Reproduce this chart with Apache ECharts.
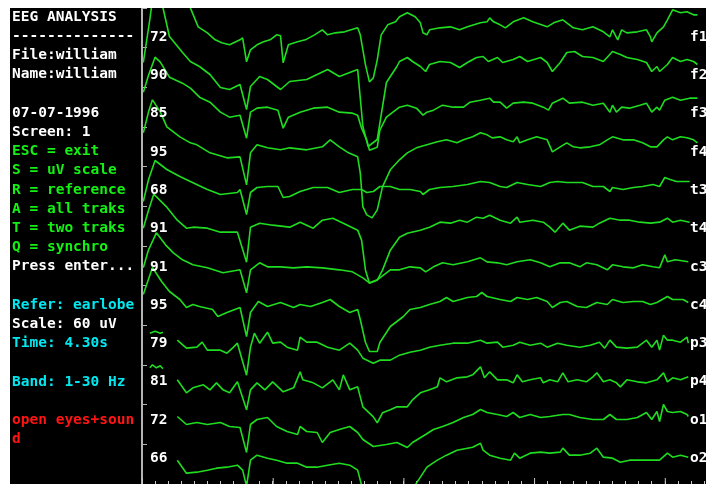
<!DOCTYPE html>
<html><head><meta charset="utf-8">
<script src="https://cdn.jsdelivr.net/npm/echarts@6/dist/echarts.min.js"></script>
<style>html,body{margin:0;padding:0;background:#fff}#c{width:706px;height:484px}</style>
</head><body><div id="c"></div><script>
// ---- data ----
const channelNames = ['f1','f2','f3','f4','t3','t4','c3','c4','p3','p4','o1','o2'];
const channelNumbers = [72, 90, 85, 95, 68, 91, 91, 95, 79, 81, 72, 66];
const durationSec = 4.3;
const secondTicks = [0, 1, 2, 3, 4];
const infoLines = [
  ['EEG ANALYSIS','w'],['--------------','w'],['File:william','w'],['Name:william','w'],['',''],
  ['07-07-1996','w'],['Screen: 1','w'],['ESC = exit','g'],['S = uV scale','g'],['R = reference','g'],
  ['A = all traks','g'],['T = two traks','g'],['Q = synchro','g'],['Press enter...','w'],['',''],
  ['Refer: earlobe','c'],['Scale: 60 uV','w'],['Time: 4.30s','c'],['',''],['Band: 1-30 Hz','c'],['',''],
  ['open eyes+soun','r'],['d','r']
];
// traces: [time (s), amplitude relative to channel baseline]; null = gap
const f1 = [[0.01,53],[0.18,68],[0.31,48],[0.37,20],[0.43,1],[0.50,-5],[0.56,-12],[0.61,-15],[0.67,-17],[0.75,-12],[0.77,-10],[0.80,-34],[0.83,-22],[0.88,-17],[0.93,-14],[0.98,-12],[1.03,-7],[1.06,-8],[1.08,-35],[1.12,-17],[1.19,-14],[1.25,-12],[1.32,-7],[1.38,-2],[1.42,-7],[1.48,-5],[1.55,-4],[1.65,0],[1.67,-7],[1.71,-37],[1.74,-54],[1.77,-50],[1.80,-32],[1.83,-7],[1.88,3],[1.94,6],[1.97,11],[2.03,15],[2.09,11],[2.13,5],[2.15,-5],[2.18,-7],[2.20,-2],[2.28,0],[2.36,1],[2.43,-2],[2.49,1],[2.59,5],[2.64,6],[2.66,10],[2.69,6],[2.74,3],[2.78,0],[2.84,6],[2.92,10],[2.99,6],[3.10,1],[3.15,5],[3.22,8],[3.30,0],[3.37,-2],[3.45,1],[3.53,-4],[3.58,-9],[3.60,-2],[3.64,-12],[3.67,-2],[3.71,-5],[3.79,-4],[3.86,-2],[3.89,-9],[3.90,-14],[3.94,-5],[3.99,1],[4.02,8],[4.06,18],[4.12,15],[4.17,16],[4.22,13],[4.25,13]];
const f2 = [[0.01,5],[0.06,48],[0.10,88],[0.14,78],[0.16,60],[0.21,31],[0.31,15],[0.37,6],[0.44,1],[0.52,-7],[0.60,-20],[0.67,-22],[0.75,-17],[0.80,-42],[0.83,-19],[0.90,-9],[0.96,-12],[1.06,-22],[1.13,-14],[1.26,-12],[1.42,-2],[1.51,-9],[1.61,-4],[1.65,-2],[1.69,-59],[1.73,-79],[1.80,-72],[1.87,-15],[1.95,1],[1.97,6],[2.03,10],[2.07,6],[2.13,1],[2.17,-4],[2.20,3],[2.28,6],[2.36,5],[2.43,0],[2.49,5],[2.56,10],[2.61,11],[2.65,6],[2.72,10],[2.76,5],[2.84,8],[2.89,11],[2.95,6],[3.05,10],[3.10,5],[3.14,-4],[3.20,5],[3.25,15],[3.31,16],[3.37,11],[3.45,10],[3.53,6],[3.60,16],[3.66,13],[3.71,10],[3.79,8],[3.86,5],[3.90,-4],[3.94,1],[3.96,-4],[4.02,3],[4.06,10],[4.12,6],[4.17,8],[4.22,6],[4.25,3]];
const f3 = [[0.01,15],[0.05,32],[0.10,50],[0.14,45],[0.21,30],[0.31,24],[0.37,19],[0.44,10],[0.52,5],[0.60,-5],[0.67,-10],[0.75,-8],[0.80,-31],[0.83,-5],[0.88,-1],[0.96,0],[1.04,-3],[1.08,-21],[1.12,-10],[1.21,-5],[1.31,-1],[1.42,0],[1.51,-5],[1.61,-6],[1.65,-8],[1.68,-21],[1.72,-33],[1.74,-43],[1.80,-40],[1.82,-23],[1.87,-10],[1.92,-5],[1.97,0],[2.03,2],[2.10,-1],[2.15,-8],[2.18,-5],[2.23,-3],[2.30,2],[2.38,0],[2.46,0],[2.51,5],[2.59,7],[2.66,9],[2.69,5],[2.74,5],[2.79,-1],[2.84,4],[2.92,5],[2.99,4],[3.07,0],[3.11,-3],[3.14,4],[3.22,9],[3.27,4],[3.37,5],[3.45,2],[3.53,4],[3.58,-5],[3.60,2],[3.63,-5],[3.67,0],[3.73,-1],[3.81,2],[3.86,4],[3.90,-5],[3.94,0],[3.96,-3],[4.00,7],[4.06,10],[4.12,7],[4.19,9],[4.25,9]];
const f4 = [[0.01,14],[0.05,35],[0.08,47],[0.14,35],[0.19,20],[0.29,10],[0.37,4],[0.42,2],[0.52,-6],[0.65,-11],[0.75,-10],[0.80,-38],[0.83,-6],[0.88,2],[0.96,-1],[1.06,-3],[1.13,-1],[1.26,-3],[1.38,0],[1.44,7],[1.51,0],[1.58,-6],[1.65,-10],[1.67,-26],[1.69,-60],[1.72,-68],[1.76,-71],[1.80,-63],[1.84,-40],[1.90,-23],[1.97,-13],[2.03,-6],[2.10,-1],[2.18,2],[2.26,5],[2.33,7],[2.41,4],[2.46,7],[2.53,10],[2.59,14],[2.64,12],[2.68,9],[2.74,10],[2.79,7],[2.84,5],[2.87,10],[2.89,4],[2.95,7],[3.02,10],[3.10,7],[3.14,-5],[3.20,0],[3.25,4],[3.30,0],[3.35,-1],[3.43,0],[3.50,2],[3.56,7],[3.60,10],[3.68,7],[3.76,7],[3.83,4],[3.89,0],[3.94,0],[3.99,7],[4.02,10],[4.06,7],[4.12,10],[4.17,9],[4.22,7],[4.25,4]];
const t3 = [[0.01,-15],[0.05,7],[0.10,26],[0.19,17],[0.29,10],[0.37,5],[0.50,-3],[0.60,-8],[0.73,-6],[0.75,-3],[0.80,-28],[0.83,-6],[0.88,-1],[0.96,0],[1.04,0],[1.08,-11],[1.13,-10],[1.21,-5],[1.31,-1],[1.42,-1],[1.51,-6],[1.61,-3],[1.68,-3],[1.72,-6],[1.77,-5],[1.82,0],[1.90,0],[1.97,-3],[2.05,-3],[2.13,-5],[2.15,-8],[2.20,-3],[2.28,-1],[2.38,0],[2.49,2],[2.59,5],[2.66,4],[2.74,0],[2.79,-1],[2.87,4],[2.95,2],[3.05,0],[3.12,4],[3.18,5],[3.25,4],[3.37,4],[3.45,0],[3.53,0],[3.58,-5],[3.60,-1],[3.68,-3],[3.76,-1],[3.83,0],[3.91,2],[3.96,0],[4.00,9],[4.04,7],[4.09,5],[4.19,5]];
const t4 = [[0.01,-2],[0.05,16],[0.09,32],[0.19,19],[0.27,6],[0.34,-2],[0.39,-1],[0.50,-2],[0.60,-6],[0.73,-6],[0.80,-36],[0.83,-1],[0.90,3],[1.00,1],[1.13,-1],[1.21,4],[1.31,-2],[1.38,6],[1.46,8],[1.54,3],[1.65,-4],[1.68,-14],[1.71,-44],[1.74,-57],[1.80,-54],[1.84,-44],[1.90,-24],[1.97,-11],[2.03,-7],[2.13,-4],[2.20,-1],[2.28,4],[2.36,3],[2.43,6],[2.49,4],[2.56,9],[2.61,8],[2.66,11],[2.74,6],[2.82,3],[2.87,9],[2.89,4],[2.99,6],[3.07,4],[3.12,-1],[3.16,-6],[3.22,3],[3.27,-4],[3.35,0],[3.45,-1],[3.50,3],[3.58,8],[3.66,6],[3.73,6],[3.81,4],[3.89,3],[3.96,4],[4.02,8],[4.06,4],[4.12,6],[4.19,4]];
const c3 = [[0.01,-2],[0.05,16],[0.11,33],[0.18,21],[0.24,13],[0.31,6],[0.39,1],[0.50,-2],[0.62,-7],[0.75,-4],[0.80,-27],[0.83,-4],[0.90,3],[0.96,-1],[1.06,-1],[1.16,-2],[1.26,-1],[1.38,-2],[1.51,-4],[1.61,-6],[1.69,-12],[1.74,-17],[1.80,-14],[1.90,-4],[1.97,-4],[2.05,-1],[2.13,-2],[2.17,-6],[2.23,-1],[2.30,3],[2.38,1],[2.49,4],[2.59,8],[2.64,4],[2.72,3],[2.79,1],[2.87,4],[2.97,6],[3.05,3],[3.12,-1],[3.20,3],[3.27,3],[3.35,-1],[3.40,3],[3.48,1],[3.56,-4],[3.60,1],[3.68,-1],[3.76,-2],[3.83,1],[3.91,-1],[3.96,-2],[4.00,11],[4.02,4],[4.08,6],[4.18,4]];
const c4 = [[0.01,11],[0.08,38],[0.15,24],[0.21,14],[0.29,6],[0.34,-2],[0.39,1],[0.44,-1],[0.54,-4],[0.58,-11],[0.65,-7],[0.75,-2],[0.80,-31],[0.83,-7],[0.89,4],[0.96,-1],[1.06,3],[1.16,-2],[1.21,1],[1.29,-1],[1.38,3],[1.44,6],[1.51,-1],[1.59,-7],[1.65,-4],[1.67,-14],[1.71,-37],[1.74,-46],[1.80,-46],[1.82,-37],[1.90,-21],[2.00,-11],[2.05,-4],[2.13,-2],[2.20,1],[2.28,4],[2.33,8],[2.38,4],[2.49,8],[2.56,9],[2.60,13],[2.64,9],[2.74,6],[2.82,4],[2.87,8],[2.95,6],[3.02,8],[3.10,4],[3.14,-2],[3.20,3],[3.25,4],[3.33,-1],[3.40,-2],[3.48,3],[3.56,1],[3.60,6],[3.68,3],[3.76,4],[3.83,4],[3.89,1],[3.94,3],[4.02,9],[4.06,6],[4.14,6],[4.18,3]];
const p3 = [[0.06,12],[0.10,14],[0.14,12],[0.16,13],[0.21,null],[0.27,5],[0.34,-3],[0.42,-2],[0.46,3],[0.50,-5],[0.60,-5],[0.65,-8],[0.70,-2],[0.73,2],[0.80,-30],[0.83,-2],[0.86,12],[0.90,2],[0.96,13],[1.00,2],[1.06,3],[1.11,-2],[1.19,-5],[1.21,8],[1.26,3],[1.34,3],[1.42,-2],[1.51,-5],[1.59,2],[1.65,-5],[1.69,-13],[1.77,-18],[1.82,-15],[1.90,-15],[1.97,-10],[2.05,-7],[2.13,-5],[2.20,-2],[2.28,0],[2.38,2],[2.49,2],[2.59,5],[2.64,2],[2.72,3],[2.76,-2],[2.84,0],[2.89,3],[2.97,0],[3.05,2],[3.10,-2],[3.18,2],[3.25,0],[3.35,-2],[3.43,0],[3.50,3],[3.54,-3],[3.58,5],[3.63,-2],[3.71,-3],[3.79,-2],[3.86,5],[3.90,-2],[3.94,5],[3.96,-5],[3.99,10],[4.02,5],[4.06,5],[4.12,3],[4.17,8],[4.18,2]];
const p4 = [[0.06,17],[0.08,20],[0.11,17],[0.14,19],[0.16,16],[0.21,null],[0.27,5],[0.34,-8],[0.39,-3],[0.47,0],[0.52,-5],[0.57,2],[0.62,-5],[0.67,-8],[0.73,3],[0.80,-25],[0.83,-5],[0.88,2],[0.94,-5],[1.00,3],[1.08,-7],[1.16,-3],[1.21,13],[1.23,5],[1.31,2],[1.38,-3],[1.46,5],[1.51,-5],[1.54,10],[1.59,-5],[1.65,-2],[1.69,-22],[1.77,-32],[1.80,-38],[1.84,-28],[1.90,-25],[1.95,-22],[2.03,-22],[2.07,-15],[2.13,-8],[2.20,-5],[2.26,-2],[2.28,7],[2.33,3],[2.41,7],[2.49,8],[2.53,10],[2.59,18],[2.62,7],[2.66,13],[2.72,5],[2.79,5],[2.84,2],[2.87,10],[2.91,3],[2.97,5],[3.05,7],[3.07,2],[3.12,5],[3.18,3],[3.22,12],[3.26,3],[3.33,5],[3.40,3],[3.45,8],[3.48,12],[3.53,3],[3.58,5],[3.63,2],[3.66,-2],[3.71,5],[3.79,3],[3.86,2],[3.94,5],[3.99,12],[4.02,3],[4.06,7],[4.12,5],[4.18,8]];
const o1 = [[0.27,8],[0.34,0],[0.42,2],[0.50,0],[0.60,2],[0.67,-2],[0.75,-3],[0.80,-28],[0.83,0],[0.88,5],[0.96,7],[1.03,-2],[1.11,-7],[1.19,-10],[1.21,-2],[1.26,-7],[1.34,-8],[1.38,-18],[1.44,-8],[1.51,-5],[1.59,-2],[1.65,-8],[1.69,-15],[1.77,-22],[1.87,-20],[1.95,-18],[2.03,-23],[2.07,-18],[2.17,-10],[2.23,-5],[2.30,-2],[2.38,2],[2.46,7],[2.53,10],[2.59,15],[2.64,12],[2.72,10],[2.79,8],[2.84,12],[2.89,7],[2.97,10],[3.05,7],[3.12,8],[3.22,10],[3.27,10],[3.35,7],[3.45,5],[3.53,5],[3.58,10],[3.63,5],[3.71,5],[3.79,7],[3.86,12],[3.90,5],[3.94,13],[3.96,3],[3.99,20],[4.02,13],[4.06,12],[4.12,13],[4.17,10],[4.18,8]];
const o2 = [[0.27,4],[0.34,-9],[0.42,-8],[0.50,-6],[0.57,-4],[0.65,-3],[0.73,-1],[0.77,-6],[0.80,-22],[0.83,4],[0.88,9],[0.96,6],[1.03,4],[1.11,1],[1.19,1],[1.26,-3],[1.34,-3],[1.42,-1],[1.51,1],[1.59,-1],[1.65,-6],[1.68,-21],[1.78,-36],[1.97,-36],[2.07,-26],[2.10,-19],[2.18,-3],[2.26,4],[2.33,9],[2.41,14],[2.49,16],[2.53,17],[2.59,21],[2.61,14],[2.66,9],[2.74,6],[2.82,4],[2.85,11],[2.89,6],[2.97,11],[3.05,12],[3.12,11],[3.20,12],[3.22,16],[3.27,9],[3.35,9],[3.43,11],[3.48,16],[3.53,7],[3.60,6],[3.66,2],[3.73,4],[3.83,4],[3.91,4],[3.96,4],[4.02,11],[4.06,7],[4.12,9],[4.18,7]];
const traces = [f1, f2, f3, f4, t3, t4, c3, c4, p3, p4, o1, o2];

// ---- chart ----
const COLORS = { w:'#ffffff', g:'#14f014', c:'#00e8f0', r:'#ff1414' };
const TRACE = '#20dc20';
const TICK = '#c8c8c8';
const FONT = 'bold 14.5px "DejaVu Sans Mono", "Liberation Mono", monospace';
const SPAN = 476, ROW = SPAN / 12;

const series = traces.map((tr, k) => ({
  type: 'line', name: channelNames[k], showSymbol: false, symbol: 'none', silent: true,
  clip: true, animation: false, connectNulls: false,
  lineStyle: { color: TRACE, width: 1.6 },
  data: tr.map(([t, a]) => [t, a === null ? null : SPAN - ROW * (k + 0.5) + a])
}));
// long ticks at whole seconds, drawn through the x scale
series.push({
  type: 'custom', silent: true, animation: false, clip: false,
  data: secondTicks.map(t => [t, 0]),
  renderItem: (params, api) => {
    const p = api.coord([api.value(0), 0]);
    return { type: 'line', shape: { x1: p[0] + 0.5, y1: p[1], x2: p[0] + 0.5, y2: p[1] - 6 },
      style: { stroke: TICK, lineWidth: 1 } };
  }
});

const graphic = [];
graphic.push({ type:'rect', z: 100, shape:{x:0, y:0, width:706, height:8}, style:{fill:'#fff'} });
graphic.push({ type:'rect', z: 100, shape:{x:0, y:0, width:10, height:484}, style:{fill:'#fff'} });
infoLines.forEach(([txt, c], i) => {
  if (!txt) return;
  graphic.push({ type:'text', z: 50, x: 12, y: 17 + 19.2 * i,
    style:{ text: txt, fill: COLORS[c], font: FONT, verticalAlign: 'middle', align: 'left' } });
});
channelNumbers.forEach((n, k) => {
  graphic.push({ type:'text', z: 50, x: 150, y: 37 + 38.3 * k,
    style:{ text: String(n), fill: '#ffffff', font: FONT, verticalAlign: 'middle', align: 'left' } });
  graphic.push({ type:'text', z: 50, x: 690, y: 37 + 38.3 * k,
    style:{ text: channelNames[k], fill: '#ffffff', font: FONT, verticalAlign: 'middle', align: 'left' } });
});

const chart = echarts.init(document.getElementById('c'), null, { renderer: 'canvas' });
chart.setOption({
  backgroundColor: '#000000',
  animation: false,
  grid: { left: 142, top: 8, right: 2, bottom: 0 },
  xAxis: {
    type: 'value', min: 0, max: durationSec, interval: 0.1,
    axisLine: { show: false },
    axisTick: { show: true, inside: true, length: 3, lineStyle: { color: TICK, width: 1 } },
    axisLabel: { show: false }, splitLine: { show: false }
  },
  yAxis: {
    type: 'value', min: 0, max: SPAN, interval: ROW,
    axisLine: { show: true, lineStyle: { color: '#b4b4b4', width: 2 } },
    axisTick: { show: true, inside: true, length: 5, lineStyle: { color: '#b4b4b4', width: 1 } },
    axisLabel: { show: false }, splitLine: { show: false }
  },
  series: series,
  graphic: graphic
});
</script></body></html>
